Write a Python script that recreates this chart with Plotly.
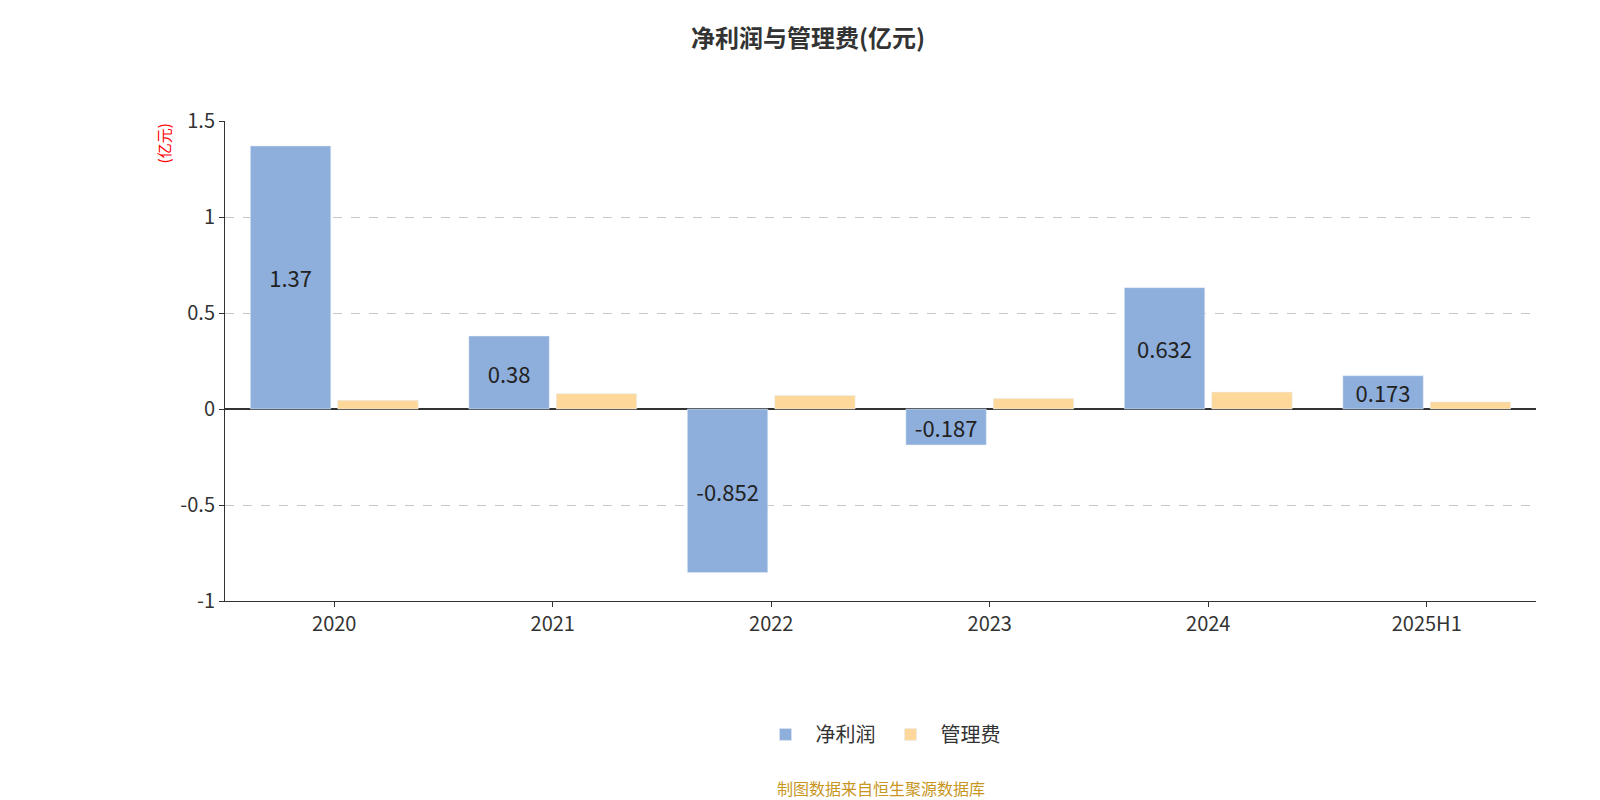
import plotly.graph_objects as go

categories = ["2020", "2021", "2022", "2023", "2024", "2025H1"]
net_profit = [1.37, 0.38, -0.852, -0.187, 0.632, 0.173]
net_labels = ["1.37", "0.38", "-0.852", "-0.187", "0.632", "0.173"]
mgmt_fee = [0.045, 0.08, 0.07, 0.055, 0.088, 0.037]
yticks = [-1, -0.5, 0, 0.5, 1, 1.5]
ytick_labels = ["-1", "-0.5", "0", "0.5", "1", "1.5"]

font = "Noto Sans CJK SC"
fig = go.Figure()
fig.add_bar(x=categories, y=net_profit, name="净利润", marker_color="#8eaedb",
            text=net_labels, textposition="inside", insidetextanchor="middle",
            textfont=dict(size=22, color="#222"), cliponaxis=False)
fig.add_bar(x=categories, y=mgmt_fee, name="管理费", marker_color="#fdd89a")

fig.update_layout(
    width=1600, height=800, plot_bgcolor="white", paper_bgcolor="white",
    font=dict(family=font, color="#333"),
    margin=dict(l=217, r=72, t=113, b=207),
    barmode="group", bargap=0.2, bargroupgap=0.08,
    uniformtext=dict(minsize=22, mode="show"),
    title=dict(text="<b>净利润与管理费(亿元)</b>", x=0.5, xanchor="center", y=0.972,
               font=dict(size=24, color="#333")),
    legend=dict(orientation="h", x=0.5, xanchor="center", y=-0.278, yanchor="middle",
                font=dict(size=20), itemwidth=50),
    xaxis=dict(showline=True, linecolor="#333", ticks="outside", tickcolor="#333",
               tickfont=dict(size=20), showgrid=False),
    yaxis=dict(range=[-1, 1.5], tickvals=yticks, ticktext=ytick_labels,
               tickfont=dict(size=20), showline=True, linecolor="#333",
               ticks="outside", tickcolor="#333", gridcolor="#c8c8c8", griddash="dash",
               zeroline=True, zerolinecolor="#333", zerolinewidth=1.5),
    annotations=[
        dict(text="(亿元)", xref="paper", yref="paper", x=-0.047, y=1.0, xanchor="center",
             yanchor="top", textangle=-90, showarrow=False, font=dict(size=15, color="red")),
        dict(text="制图数据来自恒生聚源数据库", xref="paper", yref="paper", x=0.5, y=-0.39,
             xanchor="center", yanchor="middle", showarrow=False,
             font=dict(size=16, color="#c8961e")),
    ],
)
fig.write_html("out.html")
